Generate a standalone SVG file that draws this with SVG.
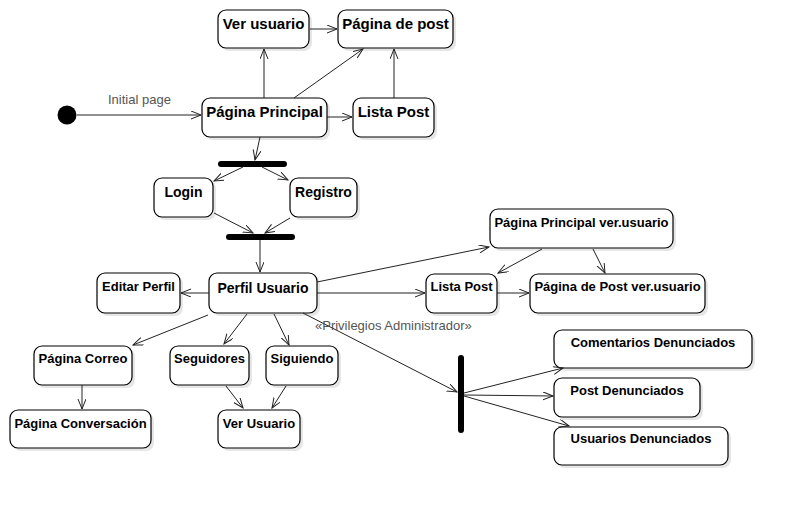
<svg xmlns="http://www.w3.org/2000/svg" width="792" height="505" viewBox="0 0 792 505">
<defs>
<style>
.b{fill:#fff;stroke:#000;stroke-width:1.2}
.sh{fill:#e6e6e6;stroke:none}
.t{font-family:"Liberation Sans",Arial,sans-serif;font-weight:bold;fill:#000;text-anchor:middle}
.l{font-family:"Liberation Sans",Arial,sans-serif;font-size:13px;fill:#555}
.e{fill:none;stroke:#222;stroke-width:1;marker-end:url(#ah)}
.bar{fill:#000}
</style>
<marker id="ah" markerWidth="12" markerHeight="10" refX="10" refY="4" orient="auto" markerUnits="userSpaceOnUse">
<path d="M0,0 L10,4 L0,8" fill="none" stroke="#222" stroke-width="1"/>
</marker>
</defs>
<rect width="792" height="505" fill="#fff"/>

<g id="initial"><circle cx="67" cy="115" r="9.5" fill="#000"/></g>

<g id="ver-usuario"><rect class="sh" x="221" y="13" width="91" height="38" rx="8"/><rect class="b" x="218" y="10" width="91" height="38" rx="8"/><text class="t" x="263.5" y="29" font-size="15">Ver usuario</text></g>
<g id="pagina-post"><rect class="sh" x="341" y="13" width="115" height="38" rx="8"/><rect class="b" x="338" y="10" width="115" height="38" rx="8"/><text class="t" x="395.5" y="29" font-size="15">Página de post</text></g>
<g id="pagina-principal"><rect class="sh" x="205" y="101" width="125" height="39" rx="8"/><rect class="b" x="202" y="98" width="125" height="39" rx="8"/><text class="t" x="264.5" y="117" font-size="15">Página Principal</text></g>
<g id="lista-post"><rect class="sh" x="356" y="101" width="81" height="39" rx="8"/><rect class="b" x="353" y="98" width="81" height="39" rx="8"/><text class="t" x="393.5" y="117" font-size="15">Lista Post</text></g>

<g id="fork1"><rect class="bar" x="218" y="161" width="69" height="6" rx="3"/></g>
<g id="login"><rect class="sh" x="157" y="181" width="59" height="39" rx="8"/><rect class="b" x="154" y="178" width="59" height="39" rx="8"/><text class="t" x="183.5" y="197" font-size="14">Login</text></g>
<g id="registro"><rect class="sh" x="293" y="181" width="67" height="39" rx="8"/><rect class="b" x="290" y="178" width="67" height="39" rx="8"/><text class="t" x="323.5" y="197" font-size="14">Registro</text></g>
<g id="join1"><rect class="bar" x="226" y="234" width="69" height="6" rx="3"/></g>

<g id="perfil-usuario"><rect class="sh" x="212" y="276" width="108" height="40" rx="8"/><rect class="b" x="209" y="273" width="108" height="40" rx="8"/><text class="t" x="263" y="293" font-size="14">Perfil Usuario</text></g>
<g id="editar-perfil"><rect class="sh" x="100" y="276" width="83" height="40" rx="8"/><rect class="b" x="97" y="273" width="83" height="40" rx="8"/><text class="t" x="138.5" y="291" font-size="13">Editar Perfil</text></g>
<g id="pagina-correo"><rect class="sh" x="37" y="349" width="98" height="39" rx="8"/><rect class="b" x="34" y="346" width="98" height="39" rx="8"/><text class="t" x="83" y="363" font-size="13">Página Correo</text></g>
<g id="seguidores"><rect class="sh" x="173" y="349" width="79" height="39" rx="8"/><rect class="b" x="170" y="346" width="79" height="39" rx="8"/><text class="t" x="209.5" y="363" font-size="13">Seguidores</text></g>
<g id="siguiendo"><rect class="sh" x="269" y="349" width="72" height="39" rx="8"/><rect class="b" x="266" y="346" width="72" height="39" rx="8"/><text class="t" x="302" y="363" font-size="13">Siguiendo</text></g>
<g id="ver-usuario-2"><rect class="sh" x="221" y="413" width="82" height="38" rx="8"/><rect class="b" x="218" y="410" width="82" height="38" rx="8"/><text class="t" x="259" y="428" font-size="13">Ver Usuario</text></g>
<g id="pagina-conversacion"><rect class="sh" x="13" y="413" width="141" height="38" rx="8"/><rect class="b" x="10" y="410" width="141" height="38" rx="8"/><text class="t" x="80.5" y="428" font-size="13">Página Conversación</text></g>

<g id="pagina-principal-ver"><rect class="sh" x="493" y="212" width="183" height="39" rx="8"/><rect class="b" x="490" y="209" width="183" height="39" rx="8"/><text class="t" x="581.5" y="227" font-size="13">Página Principal ver.usuario</text></g>
<g id="lista-post-2"><rect class="sh" x="429" y="277" width="71" height="39" rx="8"/><rect class="b" x="426" y="274" width="71" height="39" rx="8"/><text class="t" x="461.5" y="291" font-size="13">Lista Post</text></g>
<g id="pagina-post-ver"><rect class="sh" x="533" y="277" width="175" height="39" rx="8"/><rect class="b" x="530" y="274" width="175" height="39" rx="8"/><text class="t" x="617.5" y="291" font-size="13">Página de Post ver.usuario</text></g>

<g id="fork2"><rect class="bar" x="458" y="355" width="6" height="78" rx="3"/></g>
<g id="comentarios"><rect class="sh" x="557" y="333" width="198" height="38" rx="8"/><rect class="b" x="554" y="330" width="198" height="38" rx="8"/><text class="t" x="653" y="347" font-size="13">Comentarios Denunciados</text></g>
<g id="post-denunciados"><rect class="sh" x="557" y="381" width="146" height="39" rx="8"/><rect class="b" x="554" y="378" width="146" height="39" rx="8"/><text class="t" x="627" y="395" font-size="13">Post Denunciados</text></g>
<g id="usuarios-denunciados"><rect class="sh" x="557" y="430" width="174" height="38" rx="8"/><rect class="b" x="554" y="427" width="174" height="38" rx="8"/><text class="t" x="641" y="443" font-size="13">Usuarios Denunciados</text></g>

<g id="connectors">
<line class="e" x1="77" y1="115" x2="201" y2="115"/>
<text class="l" x="108" y="104">Initial page</text>
<line class="e" x1="264" y1="98" x2="264" y2="49"/>
<line class="e" x1="310" y1="29" x2="337" y2="29"/>
<line class="e" x1="294" y1="98" x2="363" y2="49"/>
<line class="e" x1="327" y1="117" x2="352" y2="117"/>
<line class="e" x1="394" y1="98" x2="394" y2="49"/>
<line class="e" x1="260" y1="137" x2="255" y2="160"/>
<line class="e" x1="243" y1="167" x2="214" y2="181"/>
<line class="e" x1="262" y1="167" x2="288" y2="180"/>
<line class="e" x1="214" y1="213" x2="253" y2="233"/>
<line class="e" x1="290" y1="218" x2="265" y2="233"/>
<line class="e" x1="260" y1="240" x2="260" y2="272"/>
<line class="e" x1="209" y1="293" x2="181" y2="293"/>
<line class="e" x1="208" y1="315" x2="133" y2="345"/>
<line class="e" x1="247" y1="314" x2="224" y2="344"/>
<line class="e" x1="274" y1="314" x2="289" y2="345"/>
<line class="e" x1="226" y1="386" x2="243" y2="408"/>
<line class="e" x1="286" y1="386" x2="272" y2="408"/>
<line class="e" x1="82" y1="385" x2="82" y2="409"/>
<line class="e" x1="317" y1="282" x2="489" y2="247"/>
<line class="e" x1="317" y1="293" x2="425" y2="293"/>
<line class="e" x1="542" y1="249" x2="498" y2="273"/>
<line class="e" x1="593" y1="249" x2="605" y2="273"/>
<line class="e" x1="497" y1="293" x2="529" y2="293"/>
<line class="e" x1="303" y1="313" x2="457" y2="392"/>
<text class="l" x="315" y="330">«Privilegios Administrador»</text>
<line class="e" x1="464" y1="393" x2="563" y2="368"/>
<line class="e" x1="464" y1="395" x2="553" y2="396"/>
<line class="e" x1="464" y1="396" x2="569" y2="426"/>
</g>
</svg>
